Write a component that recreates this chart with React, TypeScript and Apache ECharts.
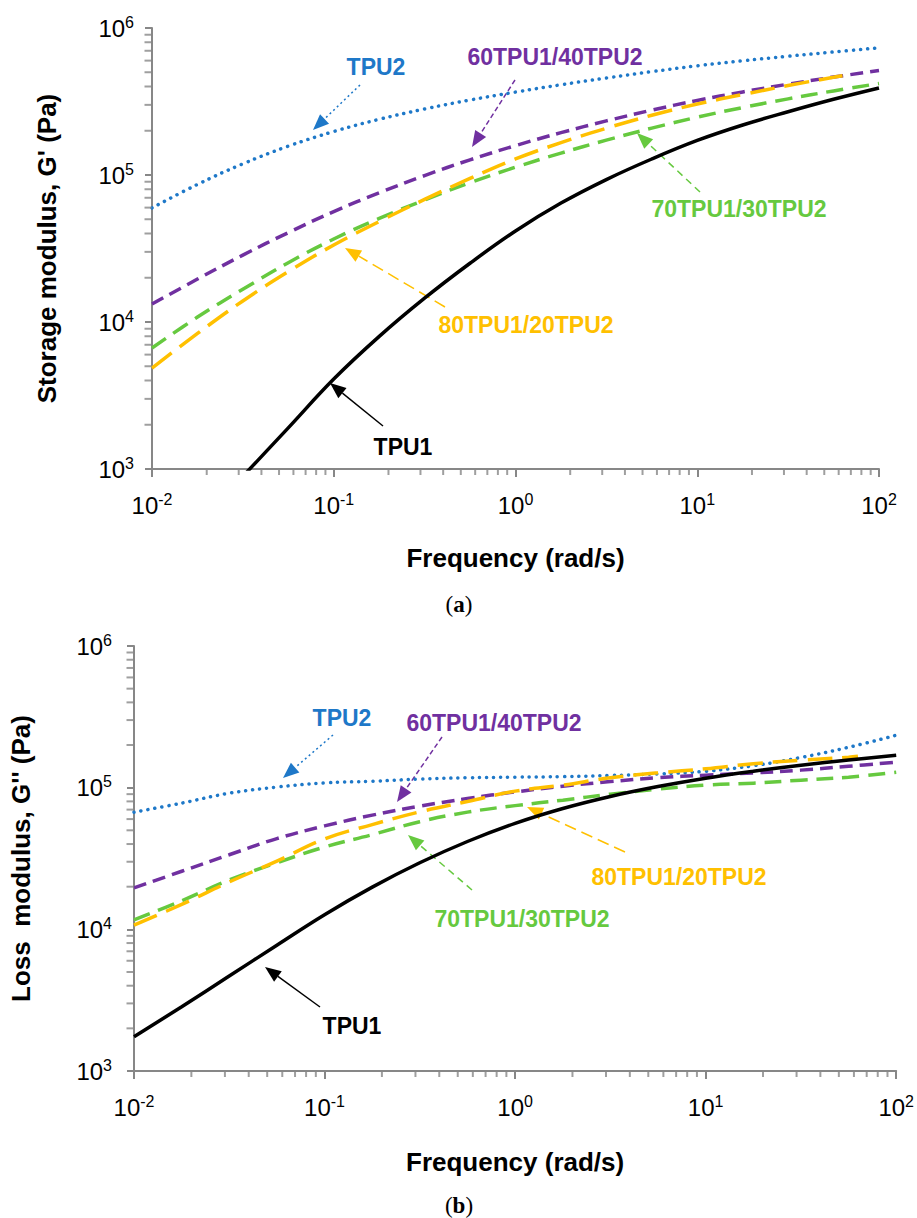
import React, { useEffect, useRef } from "react";
import * as echarts from "echarts";

// ---------- data ----------
const freq = [0.01, 0.0178, 0.0316, 0.0562, 0.1, 0.178, 0.316, 0.562, 1, 1.78, 3.16, 5.62, 10, 17.8, 31.6, 56.2, 100];
const freqYellow = [0.01, 0.0178, 0.0316, 0.0562, 0.1, 0.178, 0.316, 0.562, 1, 1.78, 3.16, 5.62, 10, 17.8, 31.6, 56.2, 63];

// (a) storage modulus G' (Pa)
const storageTPU1 = [195, 417, 891, 1905, 4090, 7980, 14520, 25100, 41600, 64400, 93100, 128500, 171800, 218800, 269200, 327300, 390800];
const storageTPU2 = [59700, 86300, 119100, 157000, 197700, 239300, 281200, 323600, 366400, 411100, 457100, 504700, 553400, 598400, 642700, 687100, 732800];
const storage60_40 = [13240, 19590, 28510, 40550, 56360, 75680, 99080, 126800, 158500, 194100, 233300, 276100, 321400, 367300, 415000, 463400, 514000];
const storage70_30 = [6650, 10800, 16700, 25300, 36700, 50700, 67600, 88700, 113000, 141000, 172600, 208400, 247200, 287700, 329600, 373300, 418800];
const storage80_20 = [4860, 8360, 13900, 22000, 33400, 48300, 68200, 94800, 128500, 166000, 208000, 255000, 304000, 353000, 406000, 462000, 473000];

// (b) loss modulus G'' (Pa)
const lossTPU1 = [1746, 2844, 4677, 7727, 12680, 19860, 29510, 41690, 55980, 71290, 86700, 101800, 116700, 130600, 143900, 156700, 169400];
const lossTPU2 = [67100, 77800, 91400, 101000, 108000, 111000, 115000, 117500, 118600, 119600, 121900, 125000, 130600, 142900, 163300, 192800, 234400];
const loss60_40 = [19600, 25700, 33600, 43700, 53700, 64000, 74100, 83800, 93300, 102300, 110400, 117500, 122500, 127000, 133000, 141600, 151400];
const loss70_30 = [11650, 15900, 22300, 29500, 38100, 46600, 57500, 67200, 74700, 81600, 90000, 97600, 104200, 107600, 113000, 118600, 128600];
const loss80_20 = [10700, 15000, 21600, 30300, 43400, 54900, 67500, 79800, 94500, 104200, 117400, 127200, 135900, 147600, 156300, 164000, 166700];

// axis minor ticks
const xMinor = [0.02, 0.03, 0.04, 0.05, 0.06, 0.07, 0.08, 0.09, 0.2, 0.3, 0.4, 0.5, 0.6, 0.7, 0.8, 0.9, 2, 3, 4, 5, 6, 7, 8, 9, 20, 30, 40, 50, 60, 70, 80, 90];
const yMinor = [2000, 3000, 4000, 5000, 6000, 7000, 8000, 9000, 20000, 30000, 40000, 50000, 60000, 70000, 80000, 90000, 200000, 300000, 400000, 500000, 600000, 700000, 800000, 900000];

const seriesNames = ["TPU1", "TPU2", "60TPU1/40TPU2", "70TPU1/30TPU2", "80TPU1/20TPU2"];

const FONT = "'Liberation Sans', Arial, sans-serif";
const SERIF = "'Liberation Serif', 'DejaVu Serif', serif";
const AXIS_GRAY = "#878787";
const C_BLACK = "#000000";
const C_BLUE = "#1E78C8";
const C_PURPLE = "#7030A0";
const C_GREEN = "#66C93F";
const C_YELLOW = "#FFC000";

const pair = (xs: number[], ys: number[]) => ys.map((y, i) => [xs[i], y]);

const supLabel = (v: number) => {
  const e = Math.round(Math.log10(v));
  return `{b|10}{s|${e}}`;
};
const labelRich = {
  b: { fontSize: 24, fontFamily: FONT, color: "#000", lineHeight: 28 },
  s: { fontSize: 16, fontFamily: FONT, color: "#000", verticalAlign: "top", lineHeight: 16 },
};

function makeArrow(x1: number, y1: number, x2: number, y2: number, color: string, dash: number[] | null, headLen = 16, headW = 13) {
  const dx = x2 - x1, dy = y2 - y1;
  const L = Math.hypot(dx, dy);
  const ux = dx / L, uy = dy / L;
  const bx = x2 - ux * headLen, by = y2 - uy * headLen;
  const px = -uy, py = ux;
  return [
    { type: "line", silent: true, shape: { x1, y1, x2: bx, y2: by }, style: { stroke: color, lineWidth: 1.5, lineDash: dash || undefined } },
    {
      type: "polygon", silent: true,
      shape: { points: [[x2, y2], [bx + px * headW / 2, by + py * headW / 2], [bx - px * headW / 2, by - py * headW / 2]] },
      style: { fill: color },
    },
  ];
}

function makeLabel(text: string, x: number, y: number, color: string) {
  return {
    type: "text", silent: true, x, y,
    style: { text, fill: color, font: `bold 23px ${FONT}`, textAlign: "center", textVerticalAlign: "middle" },
  };
}

function makeCaption(letter: string, x: number, y: number) {
  return {
    type: "text", silent: true, x, y,
    style: {
      text: `{p|(}{l|${letter}}{p|)}`, fill: "#000", textAlign: "center", textVerticalAlign: "middle",
      rich: {
        p: { fontSize: 23, fontFamily: SERIF, fill: "#000" },
        l: { fontSize: 23, fontWeight: "bold", fontFamily: SERIF, fill: "#000" },
      },
    },
  };
}

export default function App() {
  const ref = useRef<HTMLDivElement>(null);
  useEffect(() => {
    if (!ref.current) return;
    const chart = echarts.init(ref.current, undefined, { renderer: "svg" });

    const xAxisBase = (gridIndex: number, nameGap: number) => ({
      type: "log", logBase: 10, min: 0.01, max: 100, gridIndex,
      axisLine: { show: true, onZero: false, lineStyle: { color: AXIS_GRAY, width: 2 } },
      axisTick: { show: true, length: 8, lineStyle: { color: AXIS_GRAY, width: 2 } },
      splitLine: { show: false },
      axisLabel: { formatter: supLabel, rich: labelRich, margin: 22 },
      name: "Frequency (rad/s)", nameLocation: "middle", nameGap,
      nameTextStyle: { fontSize: 26, fontWeight: "bold", fontFamily: FONT, color: "#000" },
    });
    const yAxisBase = (gridIndex: number, name: string, nameGap: number, margin: number) => ({
      type: "log", logBase: 10, min: 1000, max: 1000000, gridIndex,
      axisLine: { show: true, onZero: false, lineStyle: { color: AXIS_GRAY, width: 2 } },
      axisTick: { show: true, length: 7, lineStyle: { color: AXIS_GRAY, width: 2 } },
      splitLine: { show: false },
      axisLabel: { formatter: supLabel, rich: labelRich, margin },
      name, nameLocation: "middle", nameGap, nameRotate: 90,
      nameTextStyle: { fontSize: 26, fontWeight: "bold", fontFamily: FONT, color: "#000" },
    });

    const lineSeries = (gi: number, name: string, xs: number[], ys: number[], color: string, type: any, width = 3.5, cap = "butt") => ({
      type: "line", name, xAxisIndex: gi, yAxisIndex: gi,
      data: pair(xs, ys), smooth: 0.4, showSymbol: false, symbol: "none",
      lineStyle: { color, width, type, cap }, clip: true, silent: true, z: 3,
    });

    // minor ticks as tiny rectangles placed through the axes' own scales
    const minorY = (gi: number) => ({
      type: "scatter", xAxisIndex: gi, yAxisIndex: gi, silent: true, clip: false, z: 5,
      data: yMinor.map((v) => [0.01, v]),
      symbol: "rect", symbolSize: [7, 2], symbolOffset: [-4, 0],
      itemStyle: { color: AXIS_GRAY },
    });
    const minorX = (gi: number) => ({
      type: "scatter", xAxisIndex: gi, yAxisIndex: gi, silent: true, clip: false, z: 5,
      data: xMinor.map((v) => [v, 1000]),
      symbol: "rect", symbolSize: [2, 5], symbolOffset: [0, 3.5],
      itemStyle: { color: AXIS_GRAY },
    });

    const dotted = [0.1, 7];
    const shortDash = [13, 7];
    const medDash = [17, 9];
    const longDash = [25, 10];

    const graphics: any[] = [
      // (a) annotations
      ...makeArrow(360, 85, 313, 130, C_BLUE, [2, 3]),
      ...makeArrow(515, 80, 472, 147, C_PURPLE, [5, 3]),
      ...makeArrow(700, 192, 637, 133, C_GREEN, [7, 5]),
      ...makeArrow(445, 307, 345, 248, C_YELLOW, [12, 6]),
      ...makeArrow(383, 426, 330, 383, C_BLACK, null),
      makeLabel(seriesNames[1], 376, 67, C_BLUE),
      makeLabel(seriesNames[2], 555, 57, C_PURPLE),
      makeLabel(seriesNames[3], 739, 209, C_GREEN),
      makeLabel(seriesNames[4], 526, 325, C_YELLOW),
      makeLabel(seriesNames[0], 403, 447, C_BLACK),
      // (b) annotations
      ...makeArrow(333, 735, 283, 778, C_BLUE, [2, 3]),
      ...makeArrow(442, 737, 397, 802, C_PURPLE, [5, 3]),
      ...makeArrow(625, 852, 527, 807, C_YELLOW, [12, 6]),
      ...makeArrow(472, 890, 408, 835, C_GREEN, [7, 5]),
      ...makeArrow(320, 1007, 265, 967, C_BLACK, null),
      makeLabel(seriesNames[1], 342, 718, C_BLUE),
      makeLabel(seriesNames[2], 494, 723, C_PURPLE),
      makeLabel(seriesNames[4], 679, 877, C_YELLOW),
      makeLabel(seriesNames[3], 522, 919, C_GREEN),
      makeLabel(seriesNames[0], 352, 1026, C_BLACK),
      // captions
      makeCaption("a", 459, 604),
      makeCaption("b", 459, 1205),
    ];

    chart.setOption({
      animation: false,
      backgroundColor: "#ffffff",
      textStyle: { fontFamily: FONT },
      grid: [
        { left: 152, top: 28, width: 727, height: 441 },
        { left: 134, top: 646, width: 772, height: 425 },
      ],
      xAxis: [xAxisBase(0, 76), xAxisBase(1, 78)],
      yAxis: [
        yAxisBase(0, "Storage modulus, G' (Pa)", 92, 18),
        yAxisBase(1, "Loss  modulus, G'' (Pa)", 100, 22),
      ],
      series: [
        lineSeries(0, seriesNames[1], freq, storageTPU2, C_BLUE, dotted, 3.5, "round"),
        lineSeries(0, seriesNames[2], freq, storage60_40, C_PURPLE, shortDash),
        lineSeries(0, seriesNames[3], freq, storage70_30, C_GREEN, medDash),
        lineSeries(0, seriesNames[4], freqYellow, storage80_20, C_YELLOW, longDash),
        lineSeries(0, seriesNames[0], freq, storageTPU1, C_BLACK, "solid", 3.5),
        lineSeries(1, seriesNames[1], freq, lossTPU2, C_BLUE, dotted, 3.5, "round"),
        lineSeries(1, seriesNames[2], freq, loss60_40, C_PURPLE, shortDash),
        lineSeries(1, seriesNames[3], freq, loss70_30, C_GREEN, medDash),
        lineSeries(1, seriesNames[4], freqYellow, loss80_20, C_YELLOW, longDash),
        lineSeries(1, seriesNames[0], freq, lossTPU1, C_BLACK, "solid", 3.5),
        minorY(0), minorX(0), minorY(1), minorX(1),
      ],
      graphic: graphics,
    });
    return () => chart.dispose();
  }, []);
  return <div ref={ref} style={{ position: "absolute", left: 0, top: 0, width: 917, height: 1218, background: "#fff" }} />;
}
